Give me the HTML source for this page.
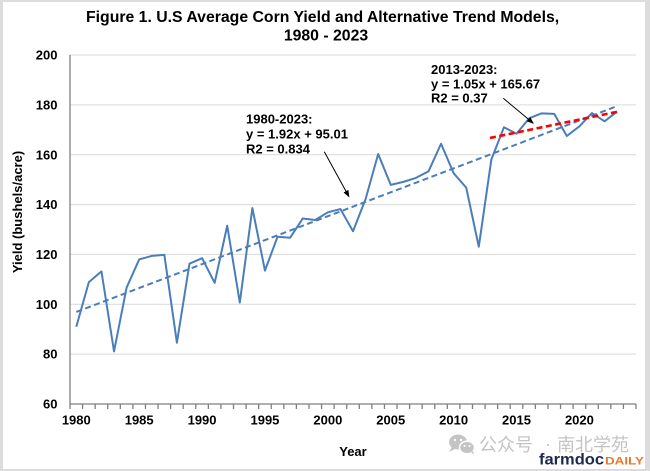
<!DOCTYPE html>
<html><head><meta charset="utf-8"><style>
html,body{margin:0;padding:0;background:#fff;}
svg{display:block;}
text{font-family:"Liberation Sans",Arial,sans-serif;}
</style></head><body>
<svg width="650" height="471" viewBox="0 0 650 471" xmlns="http://www.w3.org/2000/svg">
<defs>
<marker id="ah" viewBox="0 0 10 10" refX="9" refY="5" markerWidth="7" markerHeight="7" orient="auto" markerUnits="userSpaceOnUse">
<path d="M0,1 L10,5 L0,9 z" fill="#000"/>
</marker>
</defs>
<rect x="0" y="0" width="650" height="471" fill="#dcdcdc"/>
<rect x="3" y="2" width="642" height="467" fill="#fff"/>

<!-- title -->
<text x="86" y="22" font-size="15.8" font-weight="bold" fill="#000">Figure 1. U.S Average Corn Yield and Alternative Trend Models,</text>
<text x="326" y="40.5" font-size="15.8" font-weight="bold" fill="#000" text-anchor="middle">1980 - 2023</text>

<!-- gridlines -->
<g stroke="#d9d9d9" stroke-width="1">
<line x1="70" y1="55" x2="636" y2="55"/>
<line x1="70" y1="104.86" x2="636" y2="104.86"/>
<line x1="70" y1="154.71" x2="636" y2="154.71"/>
<line x1="70" y1="204.57" x2="636" y2="204.57"/>
<line x1="70" y1="254.43" x2="636" y2="254.43"/>
<line x1="70" y1="304.29" x2="636" y2="304.29"/>
<line x1="70" y1="354.14" x2="636" y2="354.14"/>
</g>

<!-- axes -->
<g stroke="#7f7f7f" stroke-width="1.3" fill="none">
<line x1="70" y1="55" x2="70" y2="404"/>
<line x1="70" y1="404" x2="636" y2="404"/>
<path d="M70,404v5M82.58,404v5M95.16,404v5M107.73,404v5M120.31,404v5M132.89,404v5M145.47,404v5M158.04,404v5M170.62,404v5M183.2,404v5M195.78,404v5M208.36,404v5M220.93,404v5M233.51,404v5M246.09,404v5M258.67,404v5M271.24,404v5M283.82,404v5M296.4,404v5M308.98,404v5M321.56,404v5M334.13,404v5M346.71,404v5M359.29,404v5M371.87,404v5M384.44,404v5M397.02,404v5M409.6,404v5M422.18,404v5M434.76,404v5M447.33,404v5M459.91,404v5M472.49,404v5M485.07,404v5M497.64,404v5M510.22,404v5M522.8,404v5M535.38,404v5M547.96,404v5M560.53,404v5M573.11,404v5M585.69,404v5M598.27,404v5M610.84,404v5M623.42,404v5M636,404v5"/>
</g>

<!-- y labels -->
<g font-size="13" font-weight="bold" fill="#000" text-anchor="end">
<text x="57.5" y="59.6">200</text>
<text x="57.5" y="109.5">180</text>
<text x="57.5" y="159.3">160</text>
<text x="57.5" y="209.2">140</text>
<text x="57.5" y="259">120</text>
<text x="57.5" y="308.9">100</text>
<text x="57.5" y="358.7">80</text>
<text x="57.5" y="408.6">60</text>
</g>

<!-- x labels -->
<g font-size="13" font-weight="bold" fill="#000" text-anchor="middle">
<text x="76.29" y="424.5">1980</text>
<text x="139.18" y="424.5">1985</text>
<text x="202.07" y="424.5">1990</text>
<text x="264.96" y="424.5">1995</text>
<text x="327.85" y="424.5">2000</text>
<text x="390.74" y="424.5">2005</text>
<text x="453.63" y="424.5">2010</text>
<text x="516.52" y="424.5">2015</text>
<text x="579.41" y="424.5">2020</text>
</g>

<!-- axis titles -->
<text x="353" y="456" font-size="13" font-weight="bold" fill="#000" text-anchor="middle">Year</text>
<text transform="translate(22,212) rotate(-90)" font-size="13" font-weight="bold" fill="#000" text-anchor="middle">Yield (bushels/acre)</text>

<!-- data series -->
<polyline fill="none" stroke="#4a7ebb" stroke-width="2" stroke-linejoin="round" points="76.29,326.72 88.87,282.10 101.45,271.38 114.02,351.40 126.60,287.58 139.18,259.41 151.76,255.92 164.34,254.93 176.91,342.68 189.49,263.65 202.07,258.17 214.65,282.85 227.23,225.76 239.80,302.54 252.38,208.06 264.96,270.63 277.54,236.73 290.12,237.73 302.69,218.53 315.27,220.03 327.85,212.30 340.43,209.06 353.01,231.24 365.58,199.09 378.16,153.97 390.74,184.88 403.32,181.89 415.90,177.90 428.47,171.42 441.05,143.75 453.63,173.16 466.21,187.62 478.79,246.70 491.36,159.45 503.94,127.29 516.52,133.77 529.10,118.32 541.67,113.33 554.25,113.83 566.83,136.02 579.41,126.30 591.99,113.08 604.56,121.31 617.14,111.59"/>

<!-- trend lines -->
<line x1="76.29" y1="311.94" x2="617.14" y2="106.13" stroke="#4a7ebb" stroke-width="2" stroke-dasharray="6,3.5"/>
<line x1="490" y1="137.96" x2="617.14" y2="111.79" stroke="#ff0000" stroke-width="2.6" stroke-dasharray="6,3.5"/>

<!-- annotations -->
<g font-size="13" font-weight="bold" fill="#000">
<text x="246" y="123.3">1980-2023:</text>
<text x="246" y="138.3">y = 1.92x + 95.01</text>
<text x="246" y="153.3">R2 = 0.834</text>
<text x="431" y="74">2013-2023:</text>
<text x="431" y="88.3">y = 1.05x + 165.67</text>
<text x="431" y="102.7">R2 = 0.37</text>
</g>
<line x1="324.3" y1="151.7" x2="349" y2="196.7" stroke="#000" stroke-width="1" marker-end="url(#ah)"/>
<line x1="503.3" y1="98.3" x2="533.3" y2="123.3" stroke="#000" stroke-width="1" marker-end="url(#ah)"/>

<!-- watermark -->
<g fill="#c4c4c4">
<ellipse cx="458" cy="442" rx="9" ry="7.5"/>
<path d="M452,447 l-3,5 l6,-3 z"/>
<ellipse cx="467" cy="447.5" rx="7.5" ry="6.3" fill="#c4c4c4" stroke="#fff" stroke-width="1.5"/>
<path d="M471,452 l3,3 l-1,-4 z"/>
</g>
<g fill="#fff">
<circle cx="455" cy="440" r="1.2"/><circle cx="461" cy="440" r="1.2"/>
<circle cx="464.5" cy="446" r="1"/><circle cx="469.5" cy="446" r="1"/>
</g>
<g font-size="18" fill="#c4c4c4">
<text x="479" y="451" style="font-family:'Liberation Sans','Noto Sans CJK SC',sans-serif">公众号</text>
<text x="548" y="450" text-anchor="middle" style="font-family:'Liberation Sans','Noto Sans CJK SC',sans-serif">·</text>
<text x="557" y="451" style="font-family:'Liberation Sans','Noto Sans CJK SC',sans-serif">南北学苑</text>
</g>
<text x="539" y="464.5" font-size="15.5" font-weight="bold" fill="#1c2951" textLength="65" lengthAdjust="spacingAndGlyphs">farmdoc</text>
<text x="605" y="464.5" font-size="11" font-weight="bold" fill="#e8792b" textLength="39" lengthAdjust="spacingAndGlyphs">DAILY</text>
</svg>
</body></html>
